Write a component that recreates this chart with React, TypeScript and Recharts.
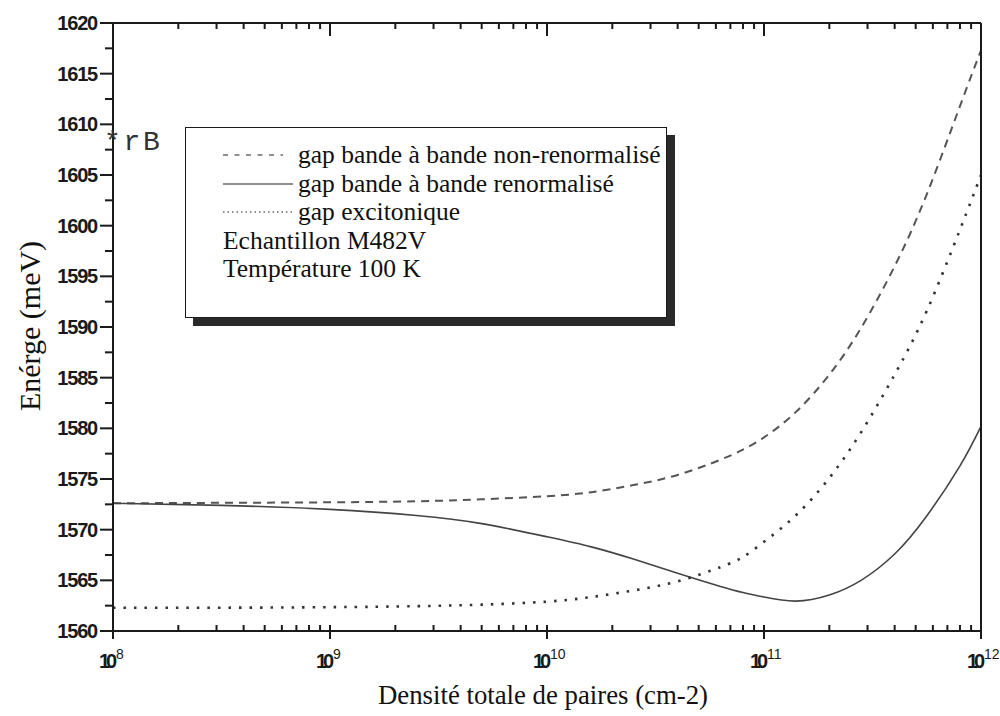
import { LineChart, Line, XAxis, YAxis, Legend } from "recharts";

// densité totale de paires (cm-2)
const densite = [
  1e8, 3.16e8, 1e9, 2.5e9, 5e9, 1e10, 1.6e10, 2.5e10, 4e10, 6.3e10, 8e10,
  1e11, 1.4e11, 2e11, 2.8e11, 4e11, 5.6e11, 8e11, 1e12,
];

// énergies (meV)
const gapNonRenorm = [
  1572.6, 1572.65, 1572.7, 1572.8, 1573.0, 1573.3, 1573.7, 1574.4, 1575.4,
  1576.9, 1577.9, 1579.1, 1581.6, 1585.3, 1589.9, 1596.0, 1603.0, 1611.8,
  1617.3,
];
const gapRenorm = [
  1572.6, 1572.4, 1572.0, 1571.4, 1570.6, 1569.3, 1568.3, 1567.1, 1565.7,
  1564.4, 1563.8, 1563.35, 1562.95, 1563.55, 1565.0, 1567.6, 1571.3, 1576.3,
  1580.2,
];
const gapExciton = [
  1562.3, 1562.3, 1562.35, 1562.45, 1562.6, 1562.9, 1563.35, 1564.0, 1564.9,
  1566.3, 1567.3, 1568.8, 1571.4, 1575.1, 1579.6, 1585.3, 1591.5, 1599.6,
  1605.0,
];

const decades = [8, 9, 10, 11, 12];
const yTicks = [
  1560, 1562.5, 1565, 1567.5, 1570, 1572.5, 1575, 1577.5, 1580, 1582.5, 1585,
  1587.5, 1590, 1592.5, 1595, 1597.5, 1600, 1602.5, 1605, 1607.5, 1610,
  1612.5, 1615, 1617.5, 1620,
];

const xTicks: number[] = [];
decades.forEach((d) => {
  for (let m = 1; m <= 9; m++) {
    if (d === 12 && m > 1) break;
    xTicks.push(m * Math.pow(10, d));
  }
});

const data = densite.map((x, i) => ({
  x,
  nonRenorm: gapNonRenorm[i],
  renorm: gapRenorm[i],
  exciton: gapExciton[i],
}));

const INK = "#1a1a1a";
const TICK_FONT = "'Liberation Sans', Arial, sans-serif";
const SERIF = "'Liberation Serif', 'Times New Roman', serif";

const isDecade = (v: number) => {
  const l = Math.log10(v);
  return Math.abs(l - Math.round(l)) < 1e-6;
};

function BottomTick({ x, y, payload }: any) {
  const v = payload.value;
  const major = isDecade(v);
  const e = Math.round(Math.log10(v));
  return (
    <g>
      <line x1={x} x2={x} y1={y - 6} y2={major ? y + 8 : y} stroke={INK} strokeWidth={2} />
      {major && (
        <text fontFamily={TICK_FONT} fontWeight={700} fill={INK}>
          <tspan x={x - 14} y={y + 37} fontSize={20} letterSpacing={-4}>10</tspan>
          <tspan x={x + 3} y={y + 28} fontSize={14} fontWeight={400}>{e}</tspan>
        </text>
      )}
    </g>
  );
}

function TopTick({ x, y, payload }: any) {
  const major = isDecade(payload.value);
  return <line x1={x} x2={x} y1={y} y2={y + (major ? 13 : 6)} stroke={INK} strokeWidth={2} />;
}

function LeftTick({ x, y, payload }: any) {
  const v = payload.value;
  const major = v % 5 === 0;
  return (
    <g>
      <line x1={x - (major ? 13 : 8)} x2={x} y1={y} y2={y} stroke={INK} strokeWidth={2} />
      {major && (
        <text
          x={x - 16}
          y={y + 7}
          textAnchor="end"
          fontFamily={TICK_FONT}
          fontWeight={700}
          fontSize={20}
          letterSpacing={-1.2}
          fill={INK}
        >
          {v}
        </text>
      )}
    </g>
  );
}

function RightTick({ x, y, payload }: any) {
  const major = payload.value % 5 === 0;
  return <line x1={x - (major ? 12 : 6)} x2={x} y1={y} y2={y} stroke={INK} strokeWidth={2} />;
}

const samples = [
  { dash: "5 6.5", width: 60 },
  { dash: undefined, width: 70 },
  { dash: "1.5 3", width: 70 },
];

function LegendBox({ payload }: any) {
  return (
    <div
      style={{
        width: 482,
        height: 191,
        boxSizing: "border-box",
        border: `1.5px solid ${INK}`,
        background: "#fff",
        boxShadow: "8px 8px 0 #2a2a2a",
        padding: "13px 0 0 37px",
        fontFamily: SERIF,
        fontSize: 25.5,
        lineHeight: "28.5px",
        color: "#111",
      }}
    >
      {(payload || []).map((p: any, i: number) => (
        <div key={p.value} style={{ display: "flex", alignItems: "center", height: 28.5 }}>
          <svg width={75} height={10} style={{ flex: "none" }}>
            <line
              x1={0}
              x2={samples[i].width}
              y1={5}
              y2={5}
              stroke="#222"
              strokeWidth={1.2}
              strokeDasharray={samples[i].dash}
            />
          </svg>
          <span>{p.value}</span>
        </div>
      ))}
      <div style={{ height: 28.5 }}>Echantillon M482V</div>
      <div style={{ height: 28.5 }}>Température 100 K</div>
    </div>
  );
}

export default function App() {
  return (
    <div
      style={{
        position: "absolute",
        left: 0,
        top: 0,
        width: 1000,
        height: 716,
        background: "#fff",
      }}
    >
      <LineChart
        width={1000}
        height={716}
        data={data}
        margin={{ top: 22, right: 18, bottom: 0, left: 0 }}
      >
        <XAxis
          xAxisId="b"
          dataKey="x"
          type="number"
          scale="log"
          domain={[1e8, 1e12]}
          ticks={xTicks}
          interval={0}
          height={85}
          tickSize={0}
          tickMargin={0}
          tickLine={false}
          tick={<BottomTick />}
          axisLine={{ stroke: INK, strokeWidth: 2 }}
          label={{
            content: () => (
              <text
                x={543}
                y={704}
                textAnchor="middle"
                fontFamily={SERIF}
                fontSize={28}
                textLength={330}
                lengthAdjust="spacingAndGlyphs"
                fill="#111"
              >
                Densité totale de paires (cm-2)
              </text>
            ),
          }}
        />
        <XAxis
          xAxisId="t"
          orientation="top"
          dataKey="x"
          type="number"
          scale="log"
          domain={[1e8, 1e12]}
          ticks={xTicks}
          interval={0}
          height={1}
          tickSize={0}
          tickMargin={0}
          tickLine={false}
          tick={<TopTick />}
          axisLine={{ stroke: INK, strokeWidth: 2 }}
        />
        <YAxis
          yAxisId="l"
          type="number"
          domain={[1560, 1620]}
          ticks={yTicks}
          interval={0}
          width={113}
          tickSize={0}
          tickMargin={0}
          tickLine={false}
          tick={<LeftTick />}
          axisLine={{ stroke: INK, strokeWidth: 2 }}
          label={{
            content: () => (
              <text
                x={40}
                y={326}
                transform="rotate(-90 40 326)"
                textAnchor="middle"
                fontFamily={SERIF}
                fontSize={30}
                fill="#111"
              >
                Enérge (meV)
              </text>
            ),
          }}
        />
        <YAxis
          yAxisId="r"
          orientation="right"
          type="number"
          domain={[1560, 1620]}
          ticks={yTicks}
          interval={0}
          width={1}
          tickSize={0}
          tickMargin={0}
          tickLine={false}
          tick={<RightTick />}
          axisLine={{ stroke: INK, strokeWidth: 2 }}
        />
        <Legend
          layout="vertical"
          align="center"
          verticalAlign="middle"
          content={<LegendBox />}
          wrapperStyle={{ left: 185, top: 127, width: 490, height: 200 }}
        />
        <Line
          xAxisId="b"
          yAxisId="l"
          dataKey="nonRenorm"
          name="gap bande à bande non-renormalisé"
          type="natural"
          stroke="#555"
          strokeWidth={2}
          strokeDasharray="8 6"
          dot={false}
          isAnimationActive={false}
        />
        <Line
          xAxisId="b"
          yAxisId="l"
          dataKey="renorm"
          name="gap bande à bande renormalisé"
          type="natural"
          stroke="#444"
          strokeWidth={1.6}
          dot={false}
          isAnimationActive={false}
        />
        <Line
          xAxisId="b"
          yAxisId="l"
          dataKey="exciton"
          name="gap excitonique"
          type="natural"
          stroke="#333"
          strokeWidth={2.6}
          strokeDasharray="2.5 8"
          dot={false}
          isAnimationActive={false}
        />
      </LineChart>
      <div
        style={{
          position: "absolute",
          left: 104,
          top: 128,
          fontFamily: "'Liberation Mono', 'Courier New', monospace",
          fontSize: 28,
          letterSpacing: 2.7,
          color: "#333",
          lineHeight: "30px",
        }}
      >
        *rB
      </div>
    </div>
  );
}
